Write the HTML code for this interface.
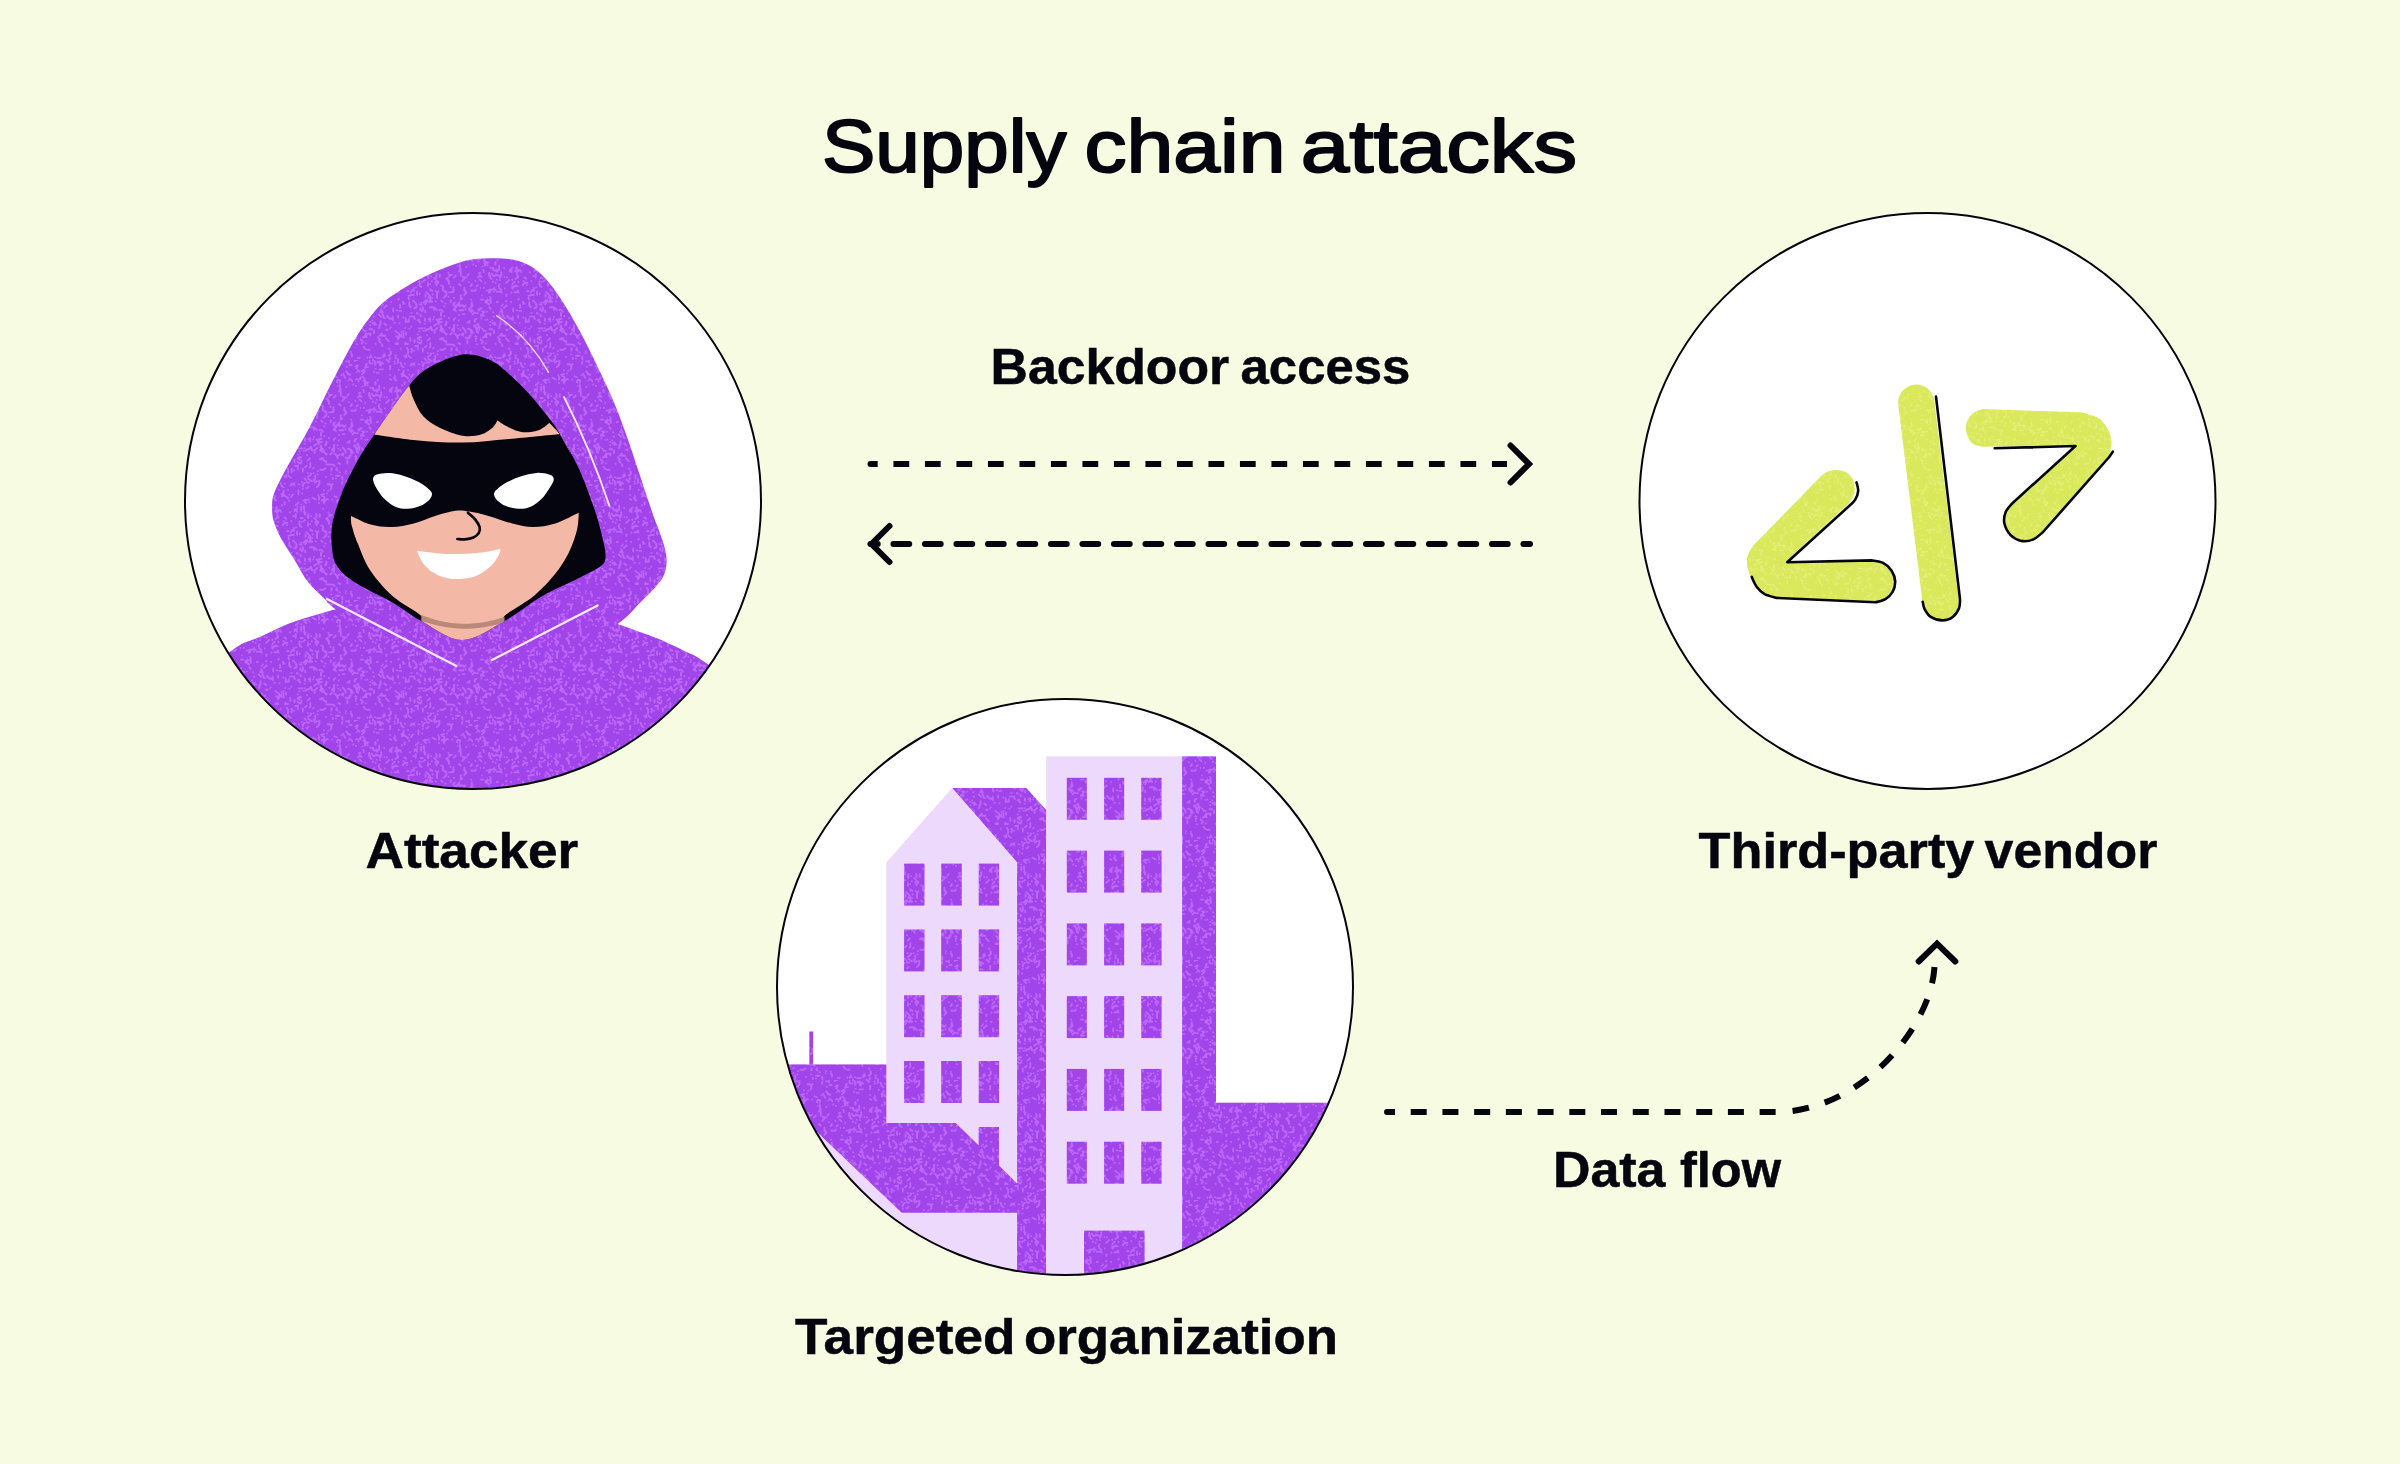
<!DOCTYPE html>
<html lang="en">
<head>
<meta charset="utf-8">
<title>Supply chain attacks</title>
<style>
  html, body { margin: 0; padding: 0; background: #f7fbe1; }
  body { width: 2400px; height: 1464px; overflow: hidden; font-family: "Liberation Sans", sans-serif; }
  svg { display: block; }
  text { font-family: "Liberation Sans", sans-serif; fill: #05050f; }
  .title { font-size: 75px; font-weight: 400; stroke: #05050f; stroke-width: 2px; stroke-linejoin: round; }
  .lbl { font-size: 50px; font-weight: 700; stroke: #05050f; stroke-width: 0.5px; stroke-linejoin: round; }
</style>
</head>
<body>
<svg width="2400" height="1464" viewBox="0 0 2400 1464">
  <defs>
    <clipPath id="c1"><circle cx="473" cy="501" r="287.5"/></clipPath>
    <clipPath id="c2"><circle cx="1065" cy="987" r="287.5"/></clipPath>
    <clipPath id="c3"><circle cx="1927.5" cy="501" r="287.5"/></clipPath>
    <filter id="soft" x="0" y="0" width="100%" height="100%" filterUnits="objectBoundingBox"><feGaussianBlur stdDeviation="0.55"/></filter>
    <pattern id="tex" width="120" height="120" patternUnits="userSpaceOnUse">
      <rect width="120" height="120" fill="#a144ea"/>
      <g stroke="#bc68fc" stroke-width="1.9" filter="url(#soft)"><path id="spk" d="M111.0 113.8l1.2 1.2l-0.2 1.0M15.6 23.0h.1M26.5 54.6h.1M10.3 85.2h.1M61.5 88.1h.1M6.9 94.0l-1.2 3.0M43.5 91.2h.1M68.6 79.3h.1M10.3 56.9l0.5 3.1M19.6 95.9l2.3 -2.3M13.7 11.8h.1M33.1 68.7l0.0 2.4M65.1 107.3l1.5 -1.5M94.1 84.9l-0.3 2.1M71.1 113.5h.1M117.0 6.7h.1M2.8 97.1l4.1 0.0M64.6 118.6l1.7 1.7M58.9 4.4h.1M65.8 90.6l1.6 -1.6M63.5 20.4l2.6 2.6M19.8 1.4l0.0 3.3M107.4 82.5h.1M83.2 99.6l1.5 1.5M35.9 103.3l1.6 0.0M75.7 39.9l2.7 2.6M9.4 67.4l1.5 1.5M95.9 118.6h.1M40.6 2.8l1.1 3.4l1.8 1.1M53.9 50.7h.1M84.0 57.6l2.1 -2.1M63.9 31.9l1.5 1.5l-0.5 1.1M80.8 72.6h.1M38.4 41.9h.1M115.2 41.0h.1M50.3 98.0l0.0 3.0M82.9 46.1l0.0 4.2l2.2 1.1M118.8 33.3l1.5 0.0M29.7 117.9l0.0 1.6M24.1 67.8l2.5 -2.5M47.5 81.5h.1M9.4 109.8l-2.0 0.1M21.9 2.3l1.3 1.3M107.6 35.4l1.2 -1.2M12.3 3.5h.1M19.2 25.7l0.0 4.2l-2.3 1.1M63.8 26.3l0.5 3.5M117.8 117.9h.1M45.6 92.9l0.5 1.5M25.2 78.1h.1M37.9 50.7h.1M88.3 56.7h.1M111.7 44.0l0.0 1.6l-0.9 0.3M69.1 116.1l2.3 -2.3M21.8 52.8h.1M92.8 117.7l0.0 1.5M6.9 4.1h.1M117.0 88.9l0.0 3.3M17.2 118.1l3.7 0.0M111.3 50.8l4.1 0.0M74.5 90.0l0.0 2.9M93.9 37.5l1.9 -1.9M35.4 115.5h.1M94.8 68.4l0.0 1.9l1.1 0.5M37.3 30.1l3.1 0.0l0.4 1.8M75.8 61.4h.1M68.7 119.1l3.1 2.2M79.2 81.3l1.3 1.3M7.3 79.5h.1M117.1 0.0l2.5 -2.5M50.6 5.5h.1M17.5 1.7l2.9 2.9M1.0 59.6l2.3 0.0M99.9 24.9l0.0 3.6M98.4 80.3h.1M100.6 90.3h.1M20.6 81.2l0.0 3.1M100.7 31.9l0.0 3.7M13.8 51.6h.1M81.3 45.4h.1M97.5 85.3h.1M75.7 51.0h.1M67.0 95.2h.1M67.7 116.8h.1M15.6 103.7h.1M44.7 3.8h.1M98.0 19.6l1.9 1.5l0.1 1.5M96.2 109.3l1.3 1.3M45.2 87.9h.1M105.6 113.3h.1M103.0 93.4l-1.2 1.3M75.2 115.6l0.0 3.2l-1.4 1.3M63.6 62.7l2.3 -2.3l1.8 0.7M21.3 32.3l0.0 3.5M94.4 65.8l2.8 0.0M93.7 79.8l1.6 -1.6M73.3 108.3h.1M107.4 99.9l0.0 3.7M30.7 111.2l0.0 3.4l-1.9 0.8M89.5 87.8h.1M65.2 70.6l0.0 1.6M70.9 88.3h.1M15.3 22.1l0.0 2.3M12.1 80.4h.1M68.5 89.7l2.5 -2.5M91.5 108.1l-0.0 2.3M94.2 87.6l-0.5 3.7M78.3 15.1h.1M43.4 93.8l0.0 3.6M78.9 23.0h.1M105.4 69.2h.1M118.8 70.5l2.6 -2.6M57.7 101.8l2.1 1.6l1.2 -1.0M116.8 104.3h.1M88.3 32.6h.1M97.9 26.1h.1M82.1 61.7h.1M115.7 49.4h.1M116.3 96.6l0.0 1.7l-0.6 0.8M68.9 61.9l3.1 0.0M106.4 26.9h.1M108.7 0.5h.1M13.0 119.9l2.7 2.7l-0.5 2.2M61.0 97.3h.1M5.4 79.9h.1M60.7 75.0l0.0 1.5M73.0 79.5h.1M111.6 62.5l0.0 4.0M58.5 10.5l0.0 3.8M76.4 79.6l1.6 1.6M28.9 108.6h.1M104.4 47.6l0.0 3.4M69.6 107.8h.1M24.2 83.3l1.9 1.9M32.0 46.6h.1M96.7 108.2h.1M96.8 21.1l1.2 -1.2M31.1 19.8h.1M103.2 93.6h.1M108.2 88.7l3.6 2.0l1.1 2.2M23.0 64.4h.1M26.2 42.9l2.8 -2.8M72.0 57.9h.1M99.2 65.5l3.6 0.0l1.4 1.6M95.5 66.9h.1M10.3 27.5h.1M19.3 35.8l0.9 1.8M55.0 105.9l2.0 0.0M115.5 6.1l1.7 0.0l0.6 -0.8M13.2 27.7l0.0 1.8M67.7 113.0h.1M36.8 32.7h.1M58.5 98.4h.1M86.3 51.8l0.0 2.9M81.1 85.7l0.0 2.6M118.4 21.5h.1M14.8 82.8h.1M88.2 10.6h.1M74.7 2.5h.1M119.9 87.3h.1M109.0 68.3l0.9 2.3M42.1 25.2h.1M77.4 114.4h.1M15.9 84.6h.1M82.7 110.1h.1M49.3 62.3l0.0 3.4l1.7 1.2M9.7 67.8h.1M71.1 36.3h.1M68.4 57.1l2.0 2.0M58.8 88.4l3.3 0.0M9.6 49.6l3.3 0.0l1.4 -1.5M81.6 78.7l-2.8 0.6M110.8 111.9h.1M56.3 63.8l0.0 3.9l-2.2 0.7M1.4 37.1h.1M115.3 96.3h.1M1.9 14.4l2.6 -2.6M78.5 79.4l0.6 2.5M81.4 99.6h.1M70.2 78.2l0.0 1.8M24.1 28.0h.1M34.9 31.3l3.6 0.0M98.8 31.5l2.2 -2.2M81.5 99.1l1.1 -1.1M46.9 108.0h.1M112.6 74.5h.1M99.6 64.3l0.0 2.0M85.3 56.3h.1M38.1 104.0l-2.5 0.1M55.7 34.4h.1M64.9 39.9h.1M111.7 116.6h.1M79.1 70.2h.1M64.6 31.8h.1M54.4 5.4h.1M118.1 92.4h.1M119.6 39.5l1.7 1.7M3.6 97.3l2.2 -2.2l0.1 -1.9M49.2 20.7h.1M15.6 8.9h.1M51.7 108.6l0.0 3.6M63.7 40.9h.1M26.2 98.6l2.7 2.7M91.5 4.6l0.0 3.5M83.0 20.0h.1M34.6 82.7h.1M53.1 60.7l1.8 1.8M102.6 36.9l1.7 0.0M42.8 44.9l2.4 -2.4l2.0 0.4M87.7 38.4l0.0 2.3M83.0 90.3h.1M94.0 57.9h.1M38.0 118.9l-0.0 3.9M51.3 86.8h.1M98.4 103.0l1.8 0.8M11.5 33.6l1.5 1.5M0.2 47.9h.1M64.9 19.7l3.9 0.0M102.2 1.7l0.0 1.9M118.3 69.1h.1M34.5 52.3l4.1 0.0M103.3 13.8h.1M92.2 19.6h.1M111.3 70.8l1.7 0.0M34.8 15.9l0.0 1.6M102.2 40.8l2.6 -2.6M79.8 34.4l0.0 2.5M61.6 64.7h.1M10.2 3.0h.1M18.7 74.5l2.1 2.1M42.8 13.1l1.9 2.8M10.3 38.3h.1M43.3 77.2h.1M84.2 76.0h.1M65.1 79.3h.1M81.6 20.5h.1M90.6 9.2h.1M18.9 88.1h.1M29.6 108.6h.1M10.5 93.8l0.0 1.8M70.3 103.3l0.0 3.1M105.4 97.5l2.4 0.2M85.3 63.5h.1M101.6 15.2h.1M65.5 54.8l0.0 1.9M26.4 55.8h.1M107.9 1.6h.1M81.2 60.6h.1M16.6 39.8h.1M85.6 108.4l-3.2 1.8l-2.1 -0.6M3.8 20.5l2.0 2.0M51.3 41.1h.1M102.7 87.6l2.7 2.7l0.2 2.3M99.1 74.9h.1M17.8 61.8h.1M0.2 99.0l2.8 2.8M51.8 50.5l1.6 0.0l0.4 -0.9M3.2 73.1h.1M70.1 44.1h.1M41.5 14.3l2.0 -2.0l0.2 -1.7M12.3 28.2l2.6 2.6l1.8 -1.2M60.6 38.0l2.0 0.0M67.1 8.3l1.3 -1.3M19.2 47.9l1.8 1.8l-0.3 1.5M75.3 42.3l1.6 1.6l-0.6 1.2M79.3 0.3l0.0 4.0M10.2 81.9h.1M38.7 58.9h.1M89.1 52.2h.1M36.1 96.1l2.4 2.4M23.1 115.1l1.3 1.3M2.1 55.4h.1M49.8 76.6l4.1 0.0l0.9 2.2M90.6 46.8h.1M74.5 85.7l1.7 -1.7M53.7 55.1h.1M57.2 52.8l0.0 1.9M48.1 109.5l0.0 4.0M9.5 0.3l0.0 2.4l1.2 0.8M39.4 70.9l1.8 0.0M2.3 26.7h.1M64.6 83.6h.1M9.6 60.4l1.4 1.4l-0.3 1.2M18.5 12.8h.1M32.2 39.7h.1M30.5 87.4h.1M110.2 14.8h.1M92.4 89.0h.1M94.5 93.5l2.6 2.6M103.3 95.5h.1M97.7 98.3h.1M90.8 5.9h.1M51.6 72.9h.1M114.8 1.0l2.2 -2.2l1.8 -0.2M106.3 11.4l2.1 3.2M21.1 3.9l0.0 1.6M35.2 118.2h.1M18.0 97.3l1.8 1.8l-0.8 1.3M46.4 114.9l0.0 1.9l-0.9 0.7M36.6 26.9l0.0 2.1M52.6 54.8l-4.1 0.9M3.3 29.9l0.7 2.2M13.9 76.7h.1M91.9 34.9l-1.9 0.3l-0.8 -0.8M106.7 6.8h.1M106.5 11.7l2.2 2.2M15.4 50.0h.1M59.5 41.4l-0.0 4.2l2.0 1.4M92.5 4.1h.1M99.0 62.1l0.0 3.1M24.7 48.4h.1M46.8 45.3h.1M73.8 69.7h.1M59.4 91.4h.1M83.8 91.8l2.8 2.8M19.6 9.4l3.3 0.0M62.0 41.9h.1M13.2 72.3h.1M81.3 14.4l2.7 0.0M26.1 89.7l1.7 0.0M32.4 44.3h.1M62.8 6.3h.1M76.8 53.0l1.7 -1.7M20.2 72.1l1.4 -1.4l-0.3 -1.2M44.3 115.9h.1M71.8 41.3h.1M30.1 19.1h.1M89.1 36.4h.1M57.7 94.5h.1M54.1 110.5h.1M38.3 37.2h.1M48.3 51.0h.1M41.9 16.5l1.1 -1.1M106.2 1.2h.1M57.0 51.7l0.0 2.5M1.4 78.5h.1M76.9 7.0l2.2 -2.2M43.4 40.9h.1M105.9 111.1h.1M53.7 48.0h.1M79.8 99.2h.1M117.8 73.1h.1M82.1 16.0h.1M69.5 22.1h.1M45.5 102.8h.1M56.7 73.2h.1M44.9 104.0l3.0 0.0M9.7 117.5l1.2 -1.2l-0.3 -1.0M61.4 100.6h.1M35.7 28.5h.1M104.3 54.8l2.0 -2.0l-0.8 -1.5M2.2 71.5l1.6 0.0l0.6 0.8M44.6 22.3l0.0 2.0M87.4 39.0h.1M9.0 93.7h.1M54.5 3.5l-3.3 1.0M100.7 55.2l0.0 3.0M71.0 86.9l1.1 3.6M77.8 111.3h.1M56.0 47.4h.1M81.8 91.5h.1M76.4 34.0l0.0 3.4M91.1 114.5h.1M6.8 50.6l3.6 0.0M4.4 23.5h.1M69.7 67.6h.1M15.1 117.2h.1M116.6 46.4l1.3 -1.3M59.4 97.4l0.0 2.4M97.5 64.2h.1M61.2 27.1l0.0 3.3M70.2 81.1h.1M102.3 116.6l0.0 3.1M70.5 49.1l0.0 1.5M110.8 67.4l1.9 -1.9M35.4 90.8l1.8 1.8M89.8 104.6l3.3 0.0l1.6 1.2M2.6 74.4l-1.5 0.6M104.1 15.6l1.0 2.1M65.0 78.4l0.0 2.4M115.7 101.1h.1M108.3 20.6h.1M102.6 74.1h.1M9.1 32.6l0.0 3.5M41.1 94.7l0.0 2.1M17.3 31.7h.1M101.4 70.5h.1M19.5 84.9l0.0 2.4M2.9 16.9h.1M33.9 17.9l2.2 2.7M84.1 66.2h.1M19.5 99.4l0.0 2.4l1.0 1.0M46.3 16.6l1.9 1.9M26.9 37.5h.1M53.0 14.4l-1.9 2.6M116.4 78.7l-1.9 1.7l0.2 1.5M62.6 4.9l1.9 -1.9M61.9 1.9h.1M38.5 59.6h.1M48.8 79.3l0.0 2.4M47.3 51.2h.1M111.3 70.0l0.0 2.3M78.0 81.0l0.7 3.2M111.1 59.6h.1M72.2 50.7h.1M0.3 75.7l3.6 0.0M100.1 20.3h.1M39.4 83.3h.1M37.0 70.2h.1M21.8 95.7l3.4 0.0M21.7 65.9h.1M39.1 93.5l0.0 4.2M14.0 36.6l2.1 -2.1l1.5 0.8M38.8 9.8h.1M88.9 40.7l0.0 3.3M48.5 58.0l0.6 1.5M55.7 35.6l0.0 2.0M31.4 52.5h.1M12.9 41.8h.1M84.2 16.8l0.0 3.8M57.5 26.9h.1M13.9 90.6l0.0 2.5M19.9 40.1h.1M4.0 47.7h.1M73.5 113.1h.1M115.9 84.9h.1M82.4 14.6h.1M79.0 16.8l0.0 2.7M113.1 24.5h.1M92.3 90.5h.1M48.8 115.9l1.7 1.8M3.5 106.9l2.2 2.2M117.1 73.3h.1M86.4 39.1l1.1 -1.1M67.8 100.3l2.0 -2.0M38.1 75.6l0.0 2.0M87.8 19.4h.1M74.3 67.9l2.3 1.6M49.8 32.1h.1M30.1 14.9h.1M62.1 13.4h.1M83.8 21.6l0.0 1.6M59.9 96.8l-2.4 1.8M7.0 71.6h.1M40.8 108.9h.1M7.3 117.8h.1M72.3 17.9l3.5 1.4M109.5 80.7l0.0 2.0M22.2 104.4l0.0 1.6M74.4 1.3l2.6 0.1M64.5 88.3h.1M86.7 104.4l1.8 0.0M16.8 51.8l4.0 0.0M35.7 115.1l0.0 2.0M35.0 3.8h.1M81.5 81.7h.1M108.9 42.1h.1M28.9 78.2l3.7 0.8M5.6 60.6l0.0 1.9M116.6 6.3l0.0 2.6M7.8 7.2h.1M70.5 67.3l3.1 0.0M32.4 48.4l2.9 -2.9l2.3 0.8M4.6 18.6h.1M6.1 4.3l0.0 2.6l-1.1 1.1M118.1 10.3l1.2 1.2M66.7 61.0l-1.5 3.5M30.5 6.1h.1M70.2 56.7l0.0 3.7l1.9 1.2M33.1 43.1l1.5 -1.5M80.5 86.4l0.7 2.7l-1.1 1.3M26.5 119.6l2.4 2.4M84.4 21.7l2.6 -2.6M103.1 65.8l2.4 0.0M99.7 112.2h.1M53.6 36.3h.1M5.3 42.7h.1M119.2 87.9l0.0 2.1M93.5 47.5l0.0 4.2l-2.4 0.5M68.0 43.3l0.0 2.4M24.8 96.4h.1M7.6 25.6h.1M109.6 95.4l0.0 2.8M88.9 78.3h.1M17.5 20.2h.1M86.1 101.0l0.0 1.6M62.8 108.5l0.0 3.1M30.3 88.1h.1M41.6 92.3h.1M74.1 38.1l1.5 1.5M55.7 25.4l2.7 -2.7M98.5 88.6h.1M86.9 13.4h.1M90.7 60.5l0.0 1.6M44.4 37.3l1.9 1.4M50.8 52.2h.1M93.4 69.9l2.6 -2.6M59.1 79.9h.1M49.3 88.6h.1M83.8 10.3h.1M93.1 64.3l1.6 -1.6M61.3 62.6h.1M10.2 49.8l0.0 2.5l-1.4 0.4M106.4 37.4h.1M118.4 83.8l0.0 4.0l-2.1 1.2M10.2 35.6l0.0 2.6l1.5 0.6M2.2 88.5l1.6 2.3l1.7 0.1M63.6 90.6h.1M112.9 73.9l1.3 -1.3l1.1 0.1M67.0 59.8h.1M31.3 62.0h.1M30.0 6.0l0.0 3.3M16.5 12.6h.1M97.3 22.5h.1M83.1 28.8h.1M68.7 34.2l-1.1 2.4l0.9 1.3M89.7 35.9h.1M54.5 99.8l0.0 2.8M114.0 85.7l1.9 1.8M2.0 11.4l1.5 -1.5l1.0 0.7M90.4 94.4l1.4 -1.4M75.8 89.3l1.3 -1.3M96.0 115.8l3.6 0.0M59.6 64.2h.1M49.3 14.6h.1M62.7 8.7h.1M115.9 25.7h.1M87.5 4.3l2.8 0.0M32.7 27.6l-2.8 2.2M43.0 61.8l0.3 1.8l1.1 0.1M32.7 76.8l0.0 3.5M57.8 105.5l0.0 3.4M61.1 24.5h.1M81.0 73.8l0.0 1.9M19.1 99.0h.1M80.8 87.1l2.7 2.7M51.3 4.9h.1M4.9 25.5l2.2 -2.2M94.5 16.4l2.2 0.7M99.5 70.2l3.7 0.0M9.6 89.3l2.3 0.0M26.1 61.2h.1M111.0 90.9l0.0 2.5M37.5 34.7l0.0 3.3l-1.7 0.9M15.7 42.9h.1M59.7 53.8h.1M118.0 84.5h.1M74.0 77.0h.1M61.9 71.3h.1M45.6 78.1l0.0 3.9M62.8 67.1l0.0 3.5M19.1 44.6l-0.5 2.1M7.4 59.2l0.0 3.8l1.6 1.5M23.1 117.4l1.8 -1.8l-0.5 -1.5M110.6 95.4h.1M34.5 1.6h.1M48.0 10.1h.1M54.3 30.8l1.4 -1.4l1.2 -0.2M66.2 52.2l2.6 2.6M109.5 82.8h.1M85.9 116.9h.1M116.7 12.1h.1M5.8 103.5h.1M104.3 73.9h.1M116.0 19.4l3.9 0.0l0.9 -2.2M5.4 23.8l1.5 -1.5l1.2 0.3M26.9 75.9l1.5 1.5M97.0 96.9l2.5 -2.5M72.6 54.5h.1M12.7 82.9l1.8 1.8M12.2 117.6h.1M77.0 54.1l0.0 4.0M109.2 2.3h.1M57.7 79.9l2.6 2.6M80.4 98.4l2.9 0.0M80.8 69.7l2.0 2.0M60.4 68.5l0.0 1.5M16.6 62.2h.1M109.5 18.4l2.8 2.8M1.8 103.5h.1M100.9 59.7l1.2 -1.2M38.0 99.6h.1M66.8 2.5l2.2 0.0M24.4 36.9h.1M4.1 20.1l2.8 2.8M57.7 73.7h.1M109.2 4.9l2.6 0.0M118.1 37.3l1.7 -1.7l1.2 0.8M78.8 80.2h.1M99.0 44.0l1.7 1.7M30.0 31.3h.1M66.7 52.5l2.7 2.7M40.1 65.0l0.0 2.9M119.4 117.8h.1M54.9 29.2l2.3 2.8M22.4 71.1l0.0 3.5M31.5 30.3l0.0 1.9M33.4 71.4h.1M86.4 81.7l0.0 2.4l-1.2 0.8M23.2 75.2l0.0 1.9l0.9 0.7" fill="none" stroke-linecap="round" stroke-linejoin="round"/><use href="#spk" x="-120"/><use href="#spk" y="-120"/><use href="#spk" x="-120" y="-120"/></g>
    </pattern>
    <pattern id="texl" width="120" height="120" patternUnits="userSpaceOnUse">
      <rect width="120" height="120" fill="#dae85c"/>
      <g stroke="#e2ee78" stroke-width="1.5" filter="url(#soft)"><use href="#spk"/><use href="#spk" x="-120"/><use href="#spk" y="-120"/><use href="#spk" x="-120" y="-120"/></g>
    </pattern>
  </defs>
  <rect width="2400" height="1464" fill="#f7fbe1"/>

  <!-- TITLE -->
  <text class="title" x="821.97" y="172" textLength="244.52" lengthAdjust="spacingAndGlyphs">Supply</text>
  <text class="title" x="1084.40" y="172" textLength="201.20" lengthAdjust="spacingAndGlyphs">chain</text>
  <text class="title" x="1300.86" y="172" textLength="276.18" lengthAdjust="spacingAndGlyphs">attacks</text>

  <!-- CIRCLE BACKGROUNDS -->
  <circle cx="473" cy="501" r="288" fill="#ffffff"/>
  <circle cx="1065" cy="987" r="288" fill="#ffffff"/>
  <circle cx="1927.5" cy="501" r="288" fill="#ffffff"/>

  <!-- ATTACKER -->
  <g id="attacker" clip-path="url(#c1)">
    <path d="M180 700C188.5 691.8 217.3 661.7 231 651C244.7 640.3 251.8 640.8 262 636C272.2 631.2 280.2 626.8 292 622.5C303.8 618.2 325.8 612.1 332.5 610L400 600L560 610L617.5 624C623.8 626.2 644.2 633.2 655 637.5C665.8 641.8 673.5 645.4 682.5 650C691.5 654.6 692.8 653.3 709 665C725.2 676.7 768.2 710.8 780 720L780 800L180 800Z" fill="url(#tex)"/>
    <path d="M488.8 258.2C496.6 258 505.2 258.2 512.1 259.5C519 260.8 524.7 262.8 530.3 266C535.9 269.2 540.7 273.3 545.9 278.9C551.1 284.5 555.8 291 561.4 299.7C567 308.4 573.5 319.6 579.6 330.8C585.7 342.1 592.2 355.5 597.8 367.2C603.4 378.9 608.6 389.6 613.4 400.9C618.1 412.1 622 422.6 626.3 434.7C630.6 446.8 635 460.6 639.3 473.6C643.6 486.6 648.4 501.2 652.3 512.5C656.2 523.8 660.3 533.3 662.7 541.1C665.1 548.9 666.4 553.6 666.6 559.2C666.8 564.8 666 570 664 574.8C662 579.6 659 583 654.9 587.8C650.8 592.6 645.5 597.4 639.3 603.4C633.1 609.4 630.7 614.6 617.5 624C604.3 633.4 596.2 654 560 660C523.8 666 437.4 668.4 400 660C362.6 651.6 348.1 619.6 335.6 609.5C323.2 599.4 329.8 604 325.3 599.5C320.8 595 313.6 589.3 308.4 582.6C303.2 575.9 298.7 566.6 294.1 559.2C289.6 551.9 284.6 545 281.1 538.5C277.7 532 274.9 525.9 273.4 520.3C271.9 514.7 271.9 509.4 272.1 504.7C272.3 499.9 272.3 497.9 274.7 491.8C277.1 485.8 280.5 479.2 286.3 468.4C292.1 457.6 301.9 441.6 309.7 426.9C317.5 412.2 325.6 394.5 333 380.2C340.4 365.9 347.7 351.6 353.8 341.2C359.9 330.8 364.2 324.6 369.4 317.9C374.6 311.2 378.5 306.4 385 301C391.5 295.6 399.7 290.4 408.3 285.4C416.9 280.4 427.4 275.2 436.9 271.1C446.4 267 456.8 263 465.4 260.8C474 258.6 481 258.4 488.8 258.2Z" fill="url(#tex)"/>
    <path d="M462.6 354.4C472.6 353.2 482.3 356.7 490 360C497.7 363.3 502.3 368.2 509 374C515.7 379.8 523 387.2 530 395C537 402.8 546 414 551 420.6C556 427.2 555.3 426.4 560 434.5C564.7 442.6 573.2 456.2 579 469C584.8 481.8 591 499.2 595 511C599 522.8 601.2 532.3 603 540C604.8 547.7 605.8 552.7 605.5 557C605.2 561.3 605.2 562.6 601 566C596.8 569.4 589.8 572.5 580 577.5C570.2 582.5 555.1 588.8 542.5 596C529.9 603.2 517.9 613.7 504.5 621C491.1 628.3 475.9 640 462 640C448.1 640 432.9 627.2 421.3 621C409.7 614.8 403.6 608.9 392.5 602.5C381.4 596.1 364.2 588.6 355 582.5C345.8 576.4 340.8 571.8 337 566C333.2 560.2 332.8 555.2 332 548C331.2 540.8 330.8 532.2 332.5 523C334.2 513.8 337.8 503.1 342 492.6C346.2 482.1 352.6 469.7 358 460C363.4 450.3 365.8 446.9 374.3 434.5C382.8 422.1 399.7 396.9 409 385.7C418.3 374.4 421.1 372.2 430 367C438.9 361.8 452.6 355.6 462.6 354.4Z" fill="#05050f"/>
    <clipPath id="openclip"><path d="M462.6 354.4C472.6 353.2 482.3 356.7 490 360C497.7 363.3 502.3 368.2 509 374C515.7 379.8 523 387.2 530 395C537 402.8 546 414 551 420.6C556 427.2 555.3 426.4 560 434.5C564.7 442.6 573.2 456.2 579 469C584.8 481.8 591 499.2 595 511C599 522.8 601.2 532.3 603 540C604.8 547.7 605.8 552.7 605.5 557C605.2 561.3 605.2 562.6 601 566C596.8 569.4 589.8 572.5 580 577.5C570.2 582.5 555.1 588.8 542.5 596C529.9 603.2 517.9 613.7 504.5 621C491.1 628.3 475.9 640 462 640C448.1 640 432.9 627.2 421.3 621C409.7 614.8 403.6 608.9 392.5 602.5C381.4 596.1 364.2 588.6 355 582.5C345.8 576.4 340.8 571.8 337 566C333.2 560.2 332.8 555.2 332 548C331.2 540.8 330.8 532.2 332.5 523C334.2 513.8 337.8 503.1 342 492.6C346.2 482.1 352.6 469.7 358 460C363.4 450.3 365.8 446.9 374.3 434.5C382.8 422.1 399.7 396.9 409 385.7C418.3 374.4 421.1 372.2 430 367C438.9 361.8 452.6 355.6 462.6 354.4Z"/></clipPath>
    <g clip-path="url(#openclip)">
      <path d="M351 516C350.7 524.3 351.8 525.3 353 530C354.2 534.7 355.2 537.3 358 544C360.8 550.7 364.2 561.3 370 570C375.8 578.7 383.9 588.3 392.5 596C401.1 603.7 416.5 611 421.3 616C426.1 621 418.2 623 421.3 626C424.4 629 433.1 631.4 440 634C446.9 636.6 455 641.5 462.5 641.5C470 641.5 478 636.6 485 634C492 631.4 501.2 629 504.5 626C507.8 623 499.4 621.2 504.5 616C509.6 610.8 525.8 603.1 535 595C544.2 586.9 553.5 576.7 560 567.5C566.5 558.3 570.9 549 574 540C577.1 531 578.5 525.2 578.7 513.5C578.9 501.8 578.1 483.2 575 470C571.9 456.8 569.2 446.2 560 434.5C550.8 422.8 535 409.1 520 400C505 390.9 488.5 382.4 470 380C451.5 377.6 424.9 376.6 409 385.7C393.1 394.8 383.3 418.8 374.3 434.5C365.3 450.2 358.9 466.4 355 480C351.1 493.6 351.3 507.7 351 516Z" fill="#f4b8a6"/>
      <path d="M421.3 615C424.4 616 433.1 619.5 440 621C446.9 622.5 455 623.6 462.5 623.8C470 624 478 623.1 485 622C492 620.9 501.2 617.8 504.5 617L504.5 622.5C501.2 623.2 492 626 485 627C478 628 470 629 462.5 628.8C455 628.6 446.9 627.3 440 626C433.1 624.7 424.4 621.8 421.3 621Z" fill="#b98879"/>
      <path d="M409.2 385.7C410 388 411.5 394.6 413.8 399.7C416.1 404.8 418.8 411.4 423 416C427.2 420.6 432.7 424.2 439.3 427.5C445.9 430.8 455.7 434.5 462.6 435.7C469.6 436.9 476 435.9 481 434.5C486 433.1 490.1 429.8 492.8 427.5C495.5 425.2 496.6 421.8 497.4 420.6L497.4 420.6C499.3 421.8 504.7 425.6 509 427.5C513.3 429.4 518 431.8 523 432.2C528 432.6 534.6 431.6 539.2 429.9C543.8 428.1 548.9 423.1 550.8 421.7L550.8 421.7L530 395L509 374L490 360L462.6 354.4L430 367Z" fill="#05050f"/>
      <path d="M374.3 434.5C381.2 435.5 401.3 438.9 416 440.3C430.7 441.7 447.1 442.8 462.6 442.6C478.1 442.4 492.8 440.4 509 439C525.2 437.6 551.5 434.8 560 434L579 469L595 511L578.6 512.8L578.6 512.8C574.7 514.6 562.8 521.1 555.2 523.5C547.6 525.9 540.3 527 533.1 527C525.9 527 519.8 525.4 512.2 523.5C504.6 521.6 494.8 517.7 487.6 515.7C480.4 513.7 474.4 512.4 469.1 511.6C463.8 510.8 461.1 510.1 455.6 510.8C450.1 511.5 442.9 513.6 435.9 515.7C428.9 517.8 421.2 521.6 413.8 523.5C406.4 525.4 398.8 526.8 391.6 527C384.4 527.2 377.4 526.4 370.7 524.5C363.9 522.6 354.4 517.3 351.1 515.9L342 492.6L358 460Z" fill="#05050f"/>
    </g>
    <path d="M373.4 481.5C372.8 479.5 373 478.2 373.6 477C374.2 475.8 374.3 475 376.9 474.4C379.5 473.8 384.7 472.8 389.2 473.1C393.7 473.4 399 474.5 403.9 476C408.8 477.5 414.6 480 418.7 482.1C422.8 484.2 426.3 486.9 428.5 488.9C430.7 490.8 431.9 492 432 493.8C432.1 495.6 431.2 497.8 429.2 499.9C427.2 501.9 423.5 504.6 419.9 506.1C416.3 507.6 411.7 508.7 407.6 508.8C403.5 508.9 399.2 508.4 395.3 506.7C391.4 505 387.4 501.7 384.3 498.7C381.2 495.7 378.7 491.8 376.9 488.9C375.1 486 373.9 483.5 373.4 481.5Z" fill="#fff"/>
    <path d="M553.3 481.5C554 479.5 553.8 478.2 553.1 477C552.4 475.8 551.7 475.1 549 474.4C546.3 473.7 541.2 472.6 536.7 472.9C532.2 473.2 526.9 474.5 522 476C517.1 477.5 511.3 480 507.2 482.1C503.1 484.2 499.6 486.9 497.4 488.9C495.2 490.8 494.1 492 494 493.8C493.9 495.6 494.8 497.8 496.8 499.9C498.8 501.9 502.4 504.6 506 506.1C509.6 507.6 514.2 508.7 518.3 508.8C522.4 508.9 526.7 508.4 530.6 506.7C534.5 505 538.6 501.7 541.7 498.7C544.8 495.7 547.1 491.8 549 488.9C550.9 486 552.6 483.5 553.3 481.5Z" fill="#fff"/>
    <path d="M467.9 512.8C469.1 513.9 473.4 517.2 475.3 519.6C477.2 522 479 524.8 479.6 527C480.2 529.2 479.7 531.4 478.7 533.1C477.7 534.8 475.7 536.4 473.4 537.4C471.1 538.4 467.5 539 464.8 539.3C462.1 539.6 458.6 539 457.4 539" fill="none" stroke="#05050f" stroke-width="2.7" stroke-linecap="round"/>
    <path d="M417.5 551.3C417.7 550.4 417 550.9 420.5 551.3C424 551.6 431.9 552.9 438.4 553.4C444.9 553.9 452.1 554.1 459.3 554C466.5 553.9 475 553.4 481.4 552.6C487.8 551.8 494.3 550 497.5 549.4C500.7 548.8 500.2 548.5 500.5 549.3C500.8 550.1 500.1 552 499.2 554C498.3 556 496.8 558.9 494.9 561.4C493 563.9 490.9 566.3 487.6 568.8C484.3 571.3 480 574.5 475.3 576.2C470.6 577.9 464.4 578.8 459.3 579C454.2 579.2 449 578.6 444.5 577.4C440 576.2 435.7 574.1 432.2 571.9C428.7 569.6 425.8 566.5 423.6 563.9C421.5 561.3 420.3 558.6 419.3 556.5C418.3 554.4 417.3 552.2 417.5 551.3Z" fill="#fff"/>
    <g fill="none" stroke="#fbe9fd" stroke-width="2.2" stroke-linecap="round">
      <path d="M496.6 315.8Q529 337 548.5 372.4" stroke-width="1.3"/>
      <path d="M564 397Q590 448 609.5 506" stroke-width="1.8"/>
      <path d="M327 599L456.3 666"/>
      <path d="M492 660L597.5 605.5"/>
    </g>

  </g>

  <!-- BUILDINGS -->
  <g id="org" clip-path="url(#c2)"><rect x="760" y="1064.4" width="127" height="235.6" fill="url(#tex)"/><rect x="809.3" y="1031.5" width="3.9" height="34.5" fill="url(#tex)"/><rect x="1215" y="1102.7" width="165" height="197.3" fill="url(#tex)"/><path d="M952.1 788L1026.3 788L1046.5 810.2L1046.5 1300L1017 1300L1017 862.6Z" fill="url(#tex)"/><path d="M886.3 862.6L952.1 788L1017.1 862.6L1017.1 1183.4L999 1165.6L999 1127.1L978.6 1127.1L978.6 1145.2L955.8 1123L886.3 1123Z" fill="#ecd9fb"/><path d="M886 1123L955.8 1123L978.6 1145.2L978.6 1127.1L999 1127.1L999 1165.6L1017.1 1183.4L1017.1 1300L886 1300Z" fill="url(#tex)"/><path d="M770 1087L901.7 1212.7L1017.1 1212.7L1017.1 1300L770 1300Z" fill="#ecd9fb"/><rect x="904.1" y="863.6" width="20.4" height="42" fill="url(#tex)"/><rect x="941.2" y="863.6" width="20.6" height="42" fill="url(#tex)"/><rect x="978.7" y="863.6" width="20.4" height="42" fill="url(#tex)"/><rect x="904.1" y="929.4" width="20.4" height="42" fill="url(#tex)"/><rect x="941.2" y="929.4" width="20.6" height="42" fill="url(#tex)"/><rect x="978.7" y="929.4" width="20.4" height="42" fill="url(#tex)"/><rect x="904.1" y="995.2" width="20.4" height="42" fill="url(#tex)"/><rect x="941.2" y="995.2" width="20.6" height="42" fill="url(#tex)"/><rect x="978.7" y="995.2" width="20.4" height="42" fill="url(#tex)"/><rect x="904.1" y="1061" width="20.4" height="42" fill="url(#tex)"/><rect x="941.2" y="1061" width="20.6" height="42" fill="url(#tex)"/><rect x="978.7" y="1061" width="20.4" height="42" fill="url(#tex)"/><rect x="1046.2" y="756.3" width="136" height="543.7" fill="#ecd9fb"/><rect x="1182.1" y="756.3" width="33.9" height="543.7" fill="url(#tex)"/><rect x="1066.8" y="777.8" width="20.1" height="42" fill="url(#tex)"/><rect x="1104.1" y="777.8" width="20.1" height="42" fill="url(#tex)"/><rect x="1141.2" y="777.8" width="20.4" height="42" fill="url(#tex)"/><rect x="1066.8" y="850.6" width="20.1" height="42" fill="url(#tex)"/><rect x="1104.1" y="850.6" width="20.1" height="42" fill="url(#tex)"/><rect x="1141.2" y="850.6" width="20.4" height="42" fill="url(#tex)"/><rect x="1066.8" y="923.4" width="20.1" height="42" fill="url(#tex)"/><rect x="1104.1" y="923.4" width="20.1" height="42" fill="url(#tex)"/><rect x="1141.2" y="923.4" width="20.4" height="42" fill="url(#tex)"/><rect x="1066.8" y="996.1" width="20.1" height="42" fill="url(#tex)"/><rect x="1104.1" y="996.1" width="20.1" height="42" fill="url(#tex)"/><rect x="1141.2" y="996.1" width="20.4" height="42" fill="url(#tex)"/><rect x="1066.8" y="1068.9" width="20.1" height="42" fill="url(#tex)"/><rect x="1104.1" y="1068.9" width="20.1" height="42" fill="url(#tex)"/><rect x="1141.2" y="1068.9" width="20.4" height="42" fill="url(#tex)"/><rect x="1066.8" y="1141.7" width="20.1" height="42" fill="url(#tex)"/><rect x="1104.1" y="1141.7" width="20.1" height="42" fill="url(#tex)"/><rect x="1141.2" y="1141.7" width="20.4" height="42" fill="url(#tex)"/><rect x="1084" y="1230.6" width="60.6" height="69.4" fill="url(#tex)"/>
  </g>

  <!-- CODE ICON -->
  <g id="vendor" clip-path="url(#c3)">
    <path d="M1753.1 545.8L1820.6 476.6L1820.6 476.6C1821.8 475.7 1825 472.7 1827.7 471.6C1830.4 470.5 1833.6 469.9 1836.6 470C1839.5 470.1 1842.8 470.7 1845.5 472.1C1848.1 473.5 1850.7 475.8 1852.2 478.3C1853.7 480.9 1854.5 484.3 1854.7 487.2C1854.9 490.2 1854.4 493.4 1853.4 496.1C1852.5 498.8 1849.7 502 1849 503.2L1849 503.2L1786.5 561.5L1786.5 561.5L1872.1 559.7L1872.1 559.7C1873.9 560.1 1879.6 560.5 1882.8 562.2C1885.9 563.9 1888.8 566.8 1890.7 569.8C1892.7 572.9 1894.2 576.9 1894.3 580.5C1894.4 584 1893.3 588.2 1891.6 591.1C1890 594.1 1887.3 596.6 1884.5 598.2C1881.7 599.9 1876.4 600.8 1874.8 601.3L1874.8 601.3L1776.2 597L1776.2 597C1774.1 596.3 1767.4 595.4 1763.7 592.9C1760 590.5 1756.6 586.3 1754 582.3C1751.3 578.3 1748.9 573.2 1747.8 568.9C1746.7 564.6 1746.5 560.3 1747.4 556.5C1748.3 552.7 1752.1 547.6 1753.1 545.8Z" fill="url(#texl)"/>
    <path d="M1916.3 402.7L1940.7 601.4" stroke="url(#texl)" stroke-width="36.3" stroke-linecap="round" fill="none"/>
    <path d="M1982.2 409.1L2081.7 412.3L2081.7 412.3C2084.6 413.4 2094.9 415.5 2099.4 418.8C2104 422.2 2107.2 427.9 2109.2 432.2C2111.2 436.5 2111.6 440.6 2111.5 444.6C2111.4 448.6 2109.2 454.2 2108.7 456.1L2108.7 456.1L2044 532L2044 532C2042.2 533.2 2036.6 537.8 2032.8 539.1C2029.1 540.4 2025 540.6 2021.3 539.6C2017.6 538.7 2013.3 536.2 2010.6 533.4C2008 530.6 2005.9 526.3 2005.3 522.8C2004.7 519.2 2005.6 515.6 2007.1 512.1C2008.6 508.5 2013 503.2 2014.2 501.4L2014.2 501.4L2075.5 445.5L2075.5 445.5L1982.2 446.7L1982.2 446.7C1980.4 446.1 1974.3 445.8 1971.6 442.8C1968.8 439.8 1966 433.2 1965.9 428.6C1965.7 424 1968 418.5 1970.7 415.3C1973.4 412 1980.3 410.1 1982.2 409.1Z" fill="url(#texl)"/>
    <g fill="none" stroke="#05050f" stroke-width="2.6" stroke-linecap="round" stroke-linejoin="round">
      <path d="M1856.5 482.4C1856.8 483.8 1858.4 487.9 1858.2 490.8C1858 493.7 1856.6 497.2 1855.2 499.7C1853.8 502.1 1850.8 504.4 1849.9 505.3L1787.2 562.2L1872.1 560.4L1872.1 560.4C1873.9 560.8 1879.9 561.2 1883.1 562.9C1886.4 564.6 1889.6 567.6 1891.6 570.7C1893.6 573.8 1895 577.8 1895.2 581.4C1895.3 584.9 1894.2 589.1 1892.5 592C1890.9 595 1888.2 597.4 1885.4 599.1C1882.6 600.8 1877.3 601.8 1875.6 602.3L1776.5 597.9C1774.6 597.3 1768 596 1764.6 594.2C1761.3 592.3 1758.8 589.6 1756.6 586.7C1754.5 583.8 1752.5 578.6 1751.7 576.9"/>
      <path d="M1936 396.6L1960 599.1L1960 599.1C1959.9 600.6 1960.3 605.1 1959.1 608C1957.9 611 1955.7 614.8 1952.9 616.9C1950.1 619 1946 620.4 1942.3 620.4C1938.6 620.4 1933.7 618.8 1930.7 616.9C1927.8 615 1925.8 611.4 1924.5 608.9C1923.2 606.4 1923 603 1922.7 601.8"/>
      <path d="M1994.7 448.2L2075.5 446L2012.4 503.2L2012.4 503.2C2011.3 504.7 2007 508.7 2005.7 512.1C2004.3 515.5 2003.6 519.8 2004.4 523.6C2005.3 527.5 2007.8 532.3 2010.6 535.2C2013.5 538.1 2017.6 540.1 2021.3 540.9C2025 541.6 2029.3 541 2032.8 539.6C2036.4 538.2 2041 533.7 2042.6 532.5L2109.2 457L2112.8 451.7"/>
    </g>

  </g>

  <!-- CIRCLE OUTLINES -->
  <g fill="none" stroke="#05050f" stroke-width="2">
    <circle cx="473" cy="501" r="288"/>
    <circle cx="1065" cy="987" r="288"/>
    <circle cx="1927.5" cy="501" r="288"/>
  </g>

  <!-- ARROWS -->
  <g fill="none" stroke="#05050f" stroke-width="6">
    <!-- top: right pointing -->
    <path d="M870.5 464H1507" stroke-dasharray="15.75 15.75" stroke-dashoffset="8.55"/>
    <circle cx="870.5" cy="464" r="3" fill="#05050f" stroke="none"/>
    <path d="M1510.5 445.5L1529 464L1510.5 482.5" stroke-linecap="round" stroke-linejoin="miter"/>
    <!-- bottom: left pointing -->
    <path d="M870.5 544H1530" stroke-dasharray="15.75 15.75" stroke-dashoffset="8.55" stroke-linecap="round"/>
    <path d="M889.5 526L871.5 544L889.5 562" stroke-linecap="round" stroke-linejoin="miter"/>
    <!-- data flow -->
    <path d="M1387 1112H1776" stroke-dasharray="16 15.72" stroke-dashoffset="8"/>
    <path d="M1776 1112C1858 1112 1930.2 1030.7 1934.5 967" stroke-dasharray="16.62 16.62" stroke-dashoffset="16.62"/>
    <circle cx="1387" cy="1112" r="3" fill="#05050f" stroke="none"/>
    <path d="M1918.7 961.5L1937 943.6L1955.3 961.5" stroke-linecap="round" stroke-linejoin="miter"/>
  </g>

  <!-- LABELS -->
  <text class="lbl" x="990.56" y="383.7" textLength="238.65" lengthAdjust="spacingAndGlyphs">Backdoor</text>
  <text class="lbl" x="1240.58" y="383.7" textLength="169.77" lengthAdjust="spacingAndGlyphs">access</text>
  <text class="lbl" x="365.59" y="867.6" textLength="212.72" lengthAdjust="spacingAndGlyphs">Attacker</text>
  <text class="lbl" x="1698.60" y="867.7" textLength="275.81" lengthAdjust="spacingAndGlyphs">Third-party</text>
  <text class="lbl" x="1984.60" y="867.7" textLength="172.70" lengthAdjust="spacingAndGlyphs">vendor</text>
  <text class="lbl" x="795.10" y="1353.6" textLength="220.46" lengthAdjust="spacingAndGlyphs">Targeted</text>
  <text class="lbl" x="1023.97" y="1353.6" textLength="313.98" lengthAdjust="spacingAndGlyphs">organization</text>
  <text class="lbl" x="1552.94" y="1187" textLength="112.55" lengthAdjust="spacingAndGlyphs">Data</text>
  <text class="lbl" x="1679.90" y="1187" textLength="101.10" lengthAdjust="spacingAndGlyphs">flow</text>
</svg>
</body>
</html>
